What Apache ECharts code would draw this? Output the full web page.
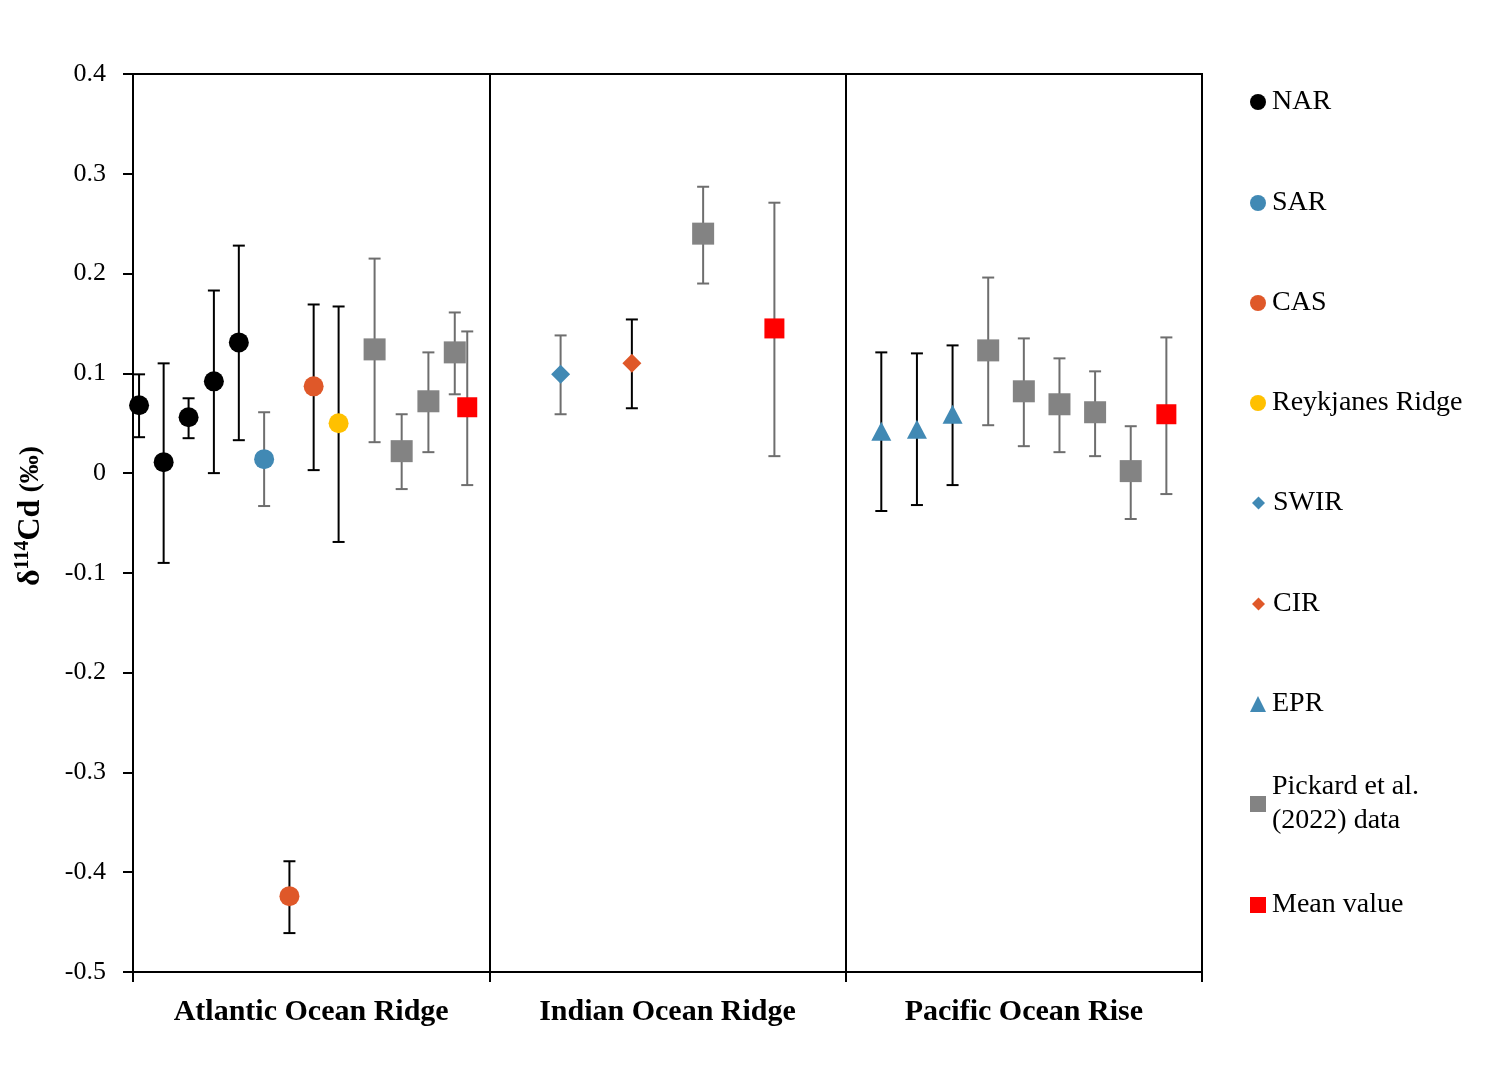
<!DOCTYPE html>
<html>
<head>
<meta charset="utf-8">
<script src="https://cdn.jsdelivr.net/npm/echarts@6/dist/echarts.min.js"></script>
<style>
  html, body { margin: 0; padding: 0; background: #fff; }
  #chart { width: 1501px; height: 1077px; }
</style>
</head>
<body>
<div id="chart"></div>
<script>
// Section names along the bottom axis
const regions = ['Atlantic Ocean Ridge', 'Indian Ocean Ridge', 'Pacific Ocean Rise'];

// y-axis tick values
const yTicks = [0.4, 0.3, 0.2, 0.1, 0, -0.1, -0.2, -0.3, -0.4, -0.5];

// Each row: [position along x (0-30), δ114Cd, lower bound, upper bound]
const NAR = [
  [0.17, 0.068, 0.036, 0.099],
  [0.86, 0.011, -0.090, 0.110],
  [1.56, 0.056, 0.035, 0.075],
  [2.27, 0.092, 0.000, 0.183],
  [2.97, 0.131, 0.033, 0.228]
];
const SAR = [
  [3.68, 0.014, -0.033, 0.061]
];
const CAS = [
  [4.39, -0.424, -0.461, -0.389],
  [5.07, 0.087, 0.003, 0.169]
];
const REYKJANES = [
  [5.77, 0.050, -0.069, 0.167]
];
const SWIR = [
  [12, 0.099, 0.059, 0.138]
];
const CIR = [
  [14, 0.110, 0.065, 0.154]
];
const EPR = [
  [21, 0.042, -0.038, 0.121],
  [22, 0.044, -0.032, 0.120],
  [23, 0.059, -0.012, 0.128]
];
const PICKARD = [
  [6.78, 0.124, 0.031, 0.215],
  [7.54, 0.022, -0.016, 0.059],
  [8.29, 0.072, 0.021, 0.121],
  [9.03, 0.121, 0.079, 0.161],
  [16, 0.240, 0.190, 0.287],
  [24, 0.123, 0.048, 0.196],
  [25, 0.082, 0.027, 0.135],
  [26, 0.069, 0.021, 0.115],
  [27, 0.061, 0.017, 0.102],
  [28, 0.002, -0.046, 0.047]
];
const MEAN = [
  [9.38, 0.066, -0.012, 0.142],
  [18, 0.145, 0.017, 0.271],
  [29, 0.059, -0.021, 0.136]
];

const SERIF = '"Liberation Serif", "Times New Roman", serif';

// name, rows, marker, marker size, fill, error-bar colour
const groups = [
  { name: 'NAR', rows: NAR, symbol: 'circle', size: 20, color: '#000000', bar: '#000000' },
  { name: 'SAR', rows: SAR, symbol: 'circle', size: 20, color: '#4189B4', bar: '#6E6E6E' },
  { name: 'CAS', rows: CAS, symbol: 'circle', size: 20, color: '#DF5829', bar: '#000000' },
  { name: 'Reykjanes Ridge', rows: REYKJANES, symbol: 'circle', size: 20, color: '#FFC000', bar: '#000000' },
  { name: 'SWIR', rows: SWIR, symbol: 'diamond', size: [19, 19], color: '#4189B4', bar: '#6E6E6E' },
  { name: 'CIR', rows: CIR, symbol: 'diamond', size: [19, 19], color: '#DF5829', bar: '#000000' },
  { name: 'EPR', rows: EPR, symbol: 'triangle', size: [20, 19], color: '#4189B4', bar: '#000000' },
  { name: 'Pickard et al. (2022) data', rows: PICKARD, symbol: 'rect', size: 22, color: '#838383', bar: '#6E6E6E' },
  { name: 'Mean value', rows: MEAN, symbol: 'rect', size: 20, color: '#FF0000', bar: '#6E6E6E' }
];

// legend rows: vertical centre of each entry
const legendCentres = [102, 203, 303, 403, 503, 604, 704, 804, 905];

function errorBarSeries(g) {
  return {
    type: 'custom',
    name: g.name + ' ±',
    xAxisIndex: 0,
    yAxisIndex: 0,
    z: 1,
    silent: true,
    itemStyle: { color: g.bar },
    data: g.rows.map(r => [r[0], r[2], r[3]]),
    encode: { x: 0, y: [1, 2] },
    renderItem: function (params, api) {
      const x = api.value(0);
      const lo = api.coord([x, api.value(1)]);
      const hi = api.coord([x, api.value(2)]);
      const half = 6;
      const style = { stroke: g.bar, lineWidth: 2 };
      return {
        type: 'group',
        children: [
          { type: 'line', shape: { x1: lo[0], y1: lo[1], x2: hi[0], y2: hi[1] }, style: style },
          { type: 'line', shape: { x1: lo[0] - half, y1: lo[1], x2: lo[0] + half, y2: lo[1] }, style: style },
          { type: 'line', shape: { x1: hi[0] - half, y1: hi[1], x2: hi[0] + half, y2: hi[1] }, style: style }
        ]
      };
    }
  };
}

function markerSeries(g) {
  return {
    type: 'scatter',
    name: g.name,
    xAxisIndex: 0,
    yAxisIndex: 0,
    z: 3,
    symbol: g.symbol,
    symbolSize: g.size,
    itemStyle: { color: g.color, opacity: 1 },
    emphasis: { disabled: true },
    data: g.rows.map(r => [r[0], r[1]])
  };
}

const series = [];
groups.forEach(g => series.push(errorBarSeries(g)));
groups.forEach(g => series.push(markerSeries(g)));

const legends = groups.map((g, i) => {
  const isPickard = g.name.indexOf('Pickard') === 0;
  const small = g.symbol === 'diamond';
  return {
    data: [{ name: g.name, icon: g.symbol, itemStyle: { color: g.color } }],
    left: small ? 1252 : 1250,
    top: isPickard ? legendCentres[i] - 51 : legendCentres[i] - 15,
    padding: 0,
    itemWidth: small ? 13 : 16,
    itemHeight: small ? 13 : 16,
    itemGap: 0,
    selectedMode: false,
    formatter: isPickard ? 'Pickard et al.\n(2022) data' : '{name}',
    textStyle: {
      fontFamily: SERIF,
      fontSize: 28,
      color: '#000',
      lineHeight: isPickard ? 34 : 30,
      padding: isPickard ? [34, 0, 0, 1] : [0, 0, 0, small ? 3 : 1]
    }
  };
});

const option = {
  animation: false,
  backgroundColor: '#ffffff',
  grid: {
    left: 133, right: 299, top: 74, bottom: 105,
    show: true, borderColor: '#000', borderWidth: 2, backgroundColor: 'transparent'
  },
  legend: legends,
  xAxis: [
    {
      type: 'value',
      min: 0, max: 30, interval: 10,
      axisLine: { show: true, onZero: false, lineStyle: { color: '#000', width: 2 } },
      axisTick: { show: false },
      axisLabel: { show: false },
      splitLine: { show: true, lineStyle: { color: '#000', width: 2 } }
    },
    {
      type: 'category',
      data: regions,
      position: 'bottom',
      boundaryGap: true,
      axisLine: { show: false, onZero: false },
      axisTick: { show: true, inside: false, interval: 0, length: 10, lineStyle: { color: '#000', width: 2 } },
      axisLabel: {
        interval: 0,
        hideOverlap: false,
        margin: 25,
        fontFamily: SERIF, fontSize: 30, fontWeight: 'bold', color: '#000'
      },
      splitLine: { show: false }
    }
  ],
  yAxis: {
    type: 'value',
    min: -0.5, max: 0.4, interval: 0.1,
    axisLine: { show: true, onZero: false, lineStyle: { color: '#000', width: 2 } },
    axisTick: { show: true, inside: false, length: 10, lineStyle: { color: '#000', width: 2 } },
    splitLine: { show: false },
    axisLabel: {
      margin: 27,
      fontFamily: SERIF, fontSize: 26, color: '#000',
      formatter: function (v) {
        const t = yTicks.find(k => Math.abs(k - v) < 1e-9);
        return t === 0 ? '0' : (t !== undefined ? t.toFixed(1) : '');
      }
    },
    name: '{a|δ}{s|114}{a|Cd}{b| (‰)}',
    nameLocation: 'middle',
    nameRotate: 90,
    nameGap: 85,
    nameTextStyle: {
      fontFamily: SERIF,
      color: '#000',
      padding: [0, 0, 0, 14],
      rich: {
        a: { fontFamily: SERIF, fontSize: 32, fontWeight: 'bold', color: '#000' },
        s: { fontFamily: SERIF, fontSize: 20, fontWeight: 'bold', color: '#000', padding: [0, 0, 15, 0] },
        b: { fontFamily: SERIF, fontSize: 28, fontWeight: 'bold', color: '#000' }
      }
    }
  },
  series: series
};

const chart = echarts.init(document.getElementById('chart'), null, { renderer: 'canvas' });
chart.setOption(option);
</script>
</body>
</html>
